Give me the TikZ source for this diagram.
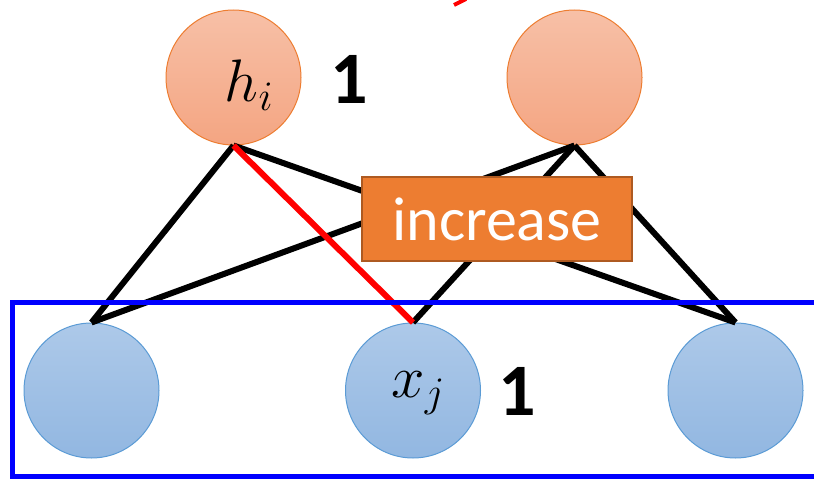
\RequirePackage{fix-cm}
\documentclass[tikz,border=0pt]{standalone}
\usepackage{fontspec}
\setsansfont{Carlito}
\usepackage{tikz}
\usetikzlibrary{positioning}
\definecolor{hidfill}{RGB}{247,192,167}
\definecolor{hidfillb}{RGB}{244,165,130}
\definecolor{hidline}{RGB}{237,125,49}
\definecolor{visfill}{RGB}{173,201,233}
\definecolor{visfillb}{RGB}{146,183,225}
\definecolor{visline}{RGB}{91,155,213}
\definecolor{boxfill}{RGB}{237,125,49}
\definecolor{boxline}{RGB}{174,90,33}
\definecolor{layerblue}{RGB}{0,0,255}

\begin{document}
\begin{tikzpicture}[x=1pt,y=-1pt,
    hid/.style={circle,draw=hidline,line width=1pt,minimum size=135pt,inner sep=0pt,
                top color=hidfill,bottom color=hidfillb},
    vis/.style={circle,draw=visline,line width=1pt,minimum size=135pt,inner sep=0pt,
                top color=visfill,bottom color=visfillb},
    var/.style={font=\fontsize{60}{60}\selectfont,inner sep=0pt},
    edge/.style={line width=6pt,black},
    num/.style={font=\sffamily\bfseries\fontsize{74}{74}\selectfont,inner sep=0pt}]

    \useasboundingbox (0,0) rectangle (814,479);

    \node[hid] (h1) at (233.5,77.5) {};
    \node[hid] (h2) at (574.5,77.5) {};
    \node[vis] (v1) at (91.5,390.5) {};
    \node[vis] (v2) at (413,390.5) {};
    \node[vis] (v3) at (735.5,390.5) {};

    \node[var] (hlab) at (249,85) {$h_i$};
    \node[var] (xlab) at (418,393) {$x_j$};

    \node[num] (n1) at (349,79) {1};
    \node[num] (n2) at (517,391) {1};

    \draw[edge] (h1.south) -- (v1.north);
    \draw[edge] (h1.south) -- (v3.north);
    \draw[edge] (h2.south) -- (v1.north);
    \draw[edge] (h2.south) -- (v2.north);
    \draw[edge] (h2.south) -- (v3.north);
    \draw[edge,red] (h1.south) -- (v2.north);

    \node[draw=boxline,line width=1.5pt,fill=boxfill,minimum width=270pt,
          minimum height=84pt,text=white,font=\sffamily\fontsize{62}{62}\selectfont]
      (inc) at (497,219) {increase};

    \coordinate (rtail) at (454,5);
    \coordinate (rhead) at (466,-1);
    \draw[line width=4pt,red] (rtail) -- (rhead);

    \draw[line width=5pt,layerblue] (12,302) rectangle (840,476);
  \end{tikzpicture}
\end{document}
